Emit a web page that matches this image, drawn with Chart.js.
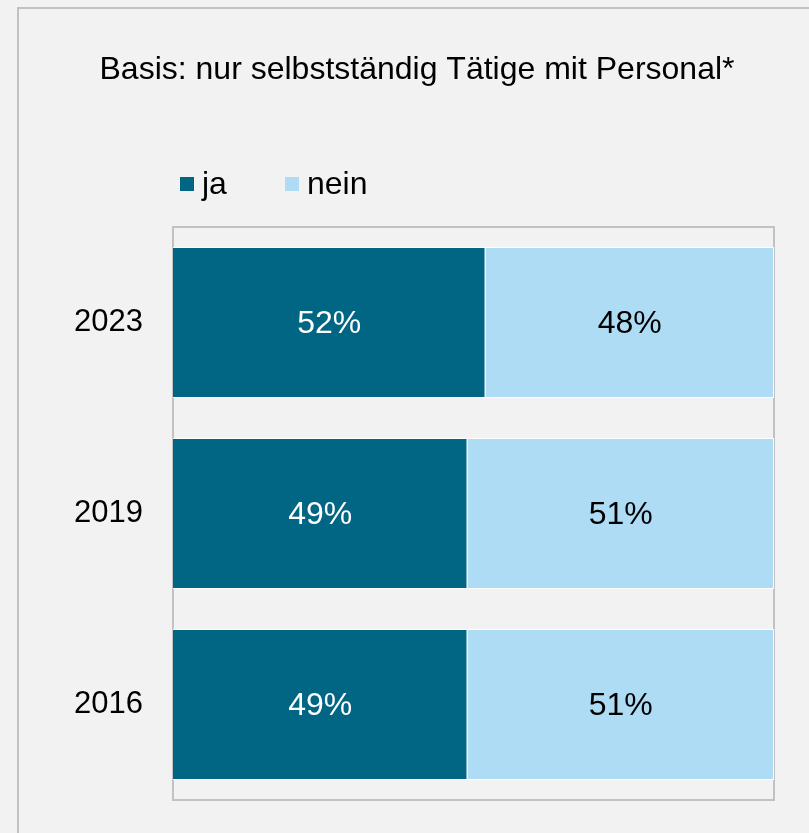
<!DOCTYPE html>
<html>
<head>
<meta charset="utf-8">
<script src="https://cdn.jsdelivr.net/npm/chart.js@4"></script>
<style>
  html, body { margin: 0; padding: 0; background: #f2f2f2; }
  #wrap { width: 809px; height: 833px; }
</style>
</head>
<body>
<div id="wrap"><canvas id="chart-bar"></canvas></div>
<script>
// Daten
const jahre = ['2023', '2019', '2016'];
const ja = [52, 49, 49];
const nein = [48, 51, 51];
const titel = 'Basis: nur selbstständig Tätige mit Personal*';

const FONT = '"Liberation Sans", Arial, sans-serif';
const GRAU = '#c2c2c2';

// Hintergrund, Rahmen, Titel und Legende
const rahmenPlugin = {
    id: 'rahmenPlugin',
    beforeDraw: (chart) => {
        const { ctx, width, height } = chart;
        ctx.save();
        ctx.fillStyle = '#f2f2f2';
        ctx.fillRect(0, 0, width, height);
        // äußerer Rahmen (nur links und oben sichtbar)
        ctx.strokeStyle = GRAU;
        ctx.lineWidth = 2;
        ctx.beginPath();
        ctx.moveTo(18, height + 5);
        ctx.lineTo(18, 8);
        ctx.lineTo(width + 5, 8);
        ctx.stroke();
        ctx.restore();
    },
    beforeDatasetsDraw: (chart) => {
        const { ctx, chartArea: { top, bottom, left, right } } = chart;
        ctx.save();
        ctx.strokeStyle = GRAU;
        ctx.lineWidth = 2;
        ctx.strokeRect(left, top, right - left, bottom - top);
        ctx.restore();
    },
    afterDraw: (chart) => {
        const { ctx } = chart;
        ctx.save();
        ctx.fillStyle = '#000';
        ctx.font = '32px ' + FONT;
        ctx.textAlign = 'center';
        ctx.textBaseline = 'middle';
        ctx.fillText(titel, 417, 70);

        // Legende
        let x = 180;
        ctx.textAlign = 'left';
        chart.data.datasets.forEach((ds) => {
            ctx.fillStyle = ds.backgroundColor;
            ctx.fillRect(x, 177, 14, 14);
            ctx.fillStyle = '#000';
            ctx.fillText(ds.label, x + 22, 185);
            x += 105;
        });
        ctx.restore();
    }
};

// Prozentwerte in die Balken schreiben
const labelPlugin = {
    id: 'labelPlugin',
    afterDatasetsDraw: (chart) => {
        const { ctx } = chart;
        ctx.save();
        ctx.font = '32px ' + FONT;
        ctx.textAlign = 'center';
        ctx.textBaseline = 'middle';
        chart.data.datasets.forEach((ds, i) => {
            chart.getDatasetMeta(i).data.forEach((bar, j) => {
                const p = bar.getProps(['x', 'y', 'base'], true);
                ctx.fillStyle = ds.labelColor;
                ctx.fillText(ds.data[j] + '%', (p.x + p.base) / 2, p.y + 2);
            });
        });
        ctx.restore();
    }
};

const config = {
    type: 'bar',
    data: {
        labels: jahre,
        datasets: [{
            label: 'ja',
            data: ja,
            backgroundColor: '#006683',
            borderColor: '#ffffff',
            borderWidth: 1,
            labelColor: '#ffffff'
        }, {
            label: 'nein',
            data: nein,
            backgroundColor: '#aedcf5',
            borderColor: '#ffffff',
            borderWidth: 1,
            labelColor: '#000000'
        }]
    },
    options: {
        indexAxis: 'y',
        responsive: true,
        maintainAspectRatio: false,
        animation: false,
        layout: {
            padding: { left: 0, right: 35, top: 227, bottom: 33 }
        },
        datasets: {
            bar: { barPercentage: 1, categoryPercentage: 0.79 }
        },
        scales: {
            x: {
                stacked: true,
                min: 0,
                max: 100,
                display: false
            },
            y: {
                stacked: true,
                grid: { display: false },
                border: { display: false },
                ticks: {
                    color: '#000',
                    padding: 22,
                    font: { family: FONT, size: 31 }
                },
                afterFit: (axis) => {
                    axis.width = 173;
                    axis.paddingTop = 0;
                    axis.paddingBottom = 0;
                }
            }
        },
        plugins: {
            legend: { display: false },
            tooltip: { enabled: false }
        }
    },
    plugins: [rahmenPlugin, labelPlugin]
};

const grafik = new Chart('chart-bar', config);
</script>
</body>
</html>
